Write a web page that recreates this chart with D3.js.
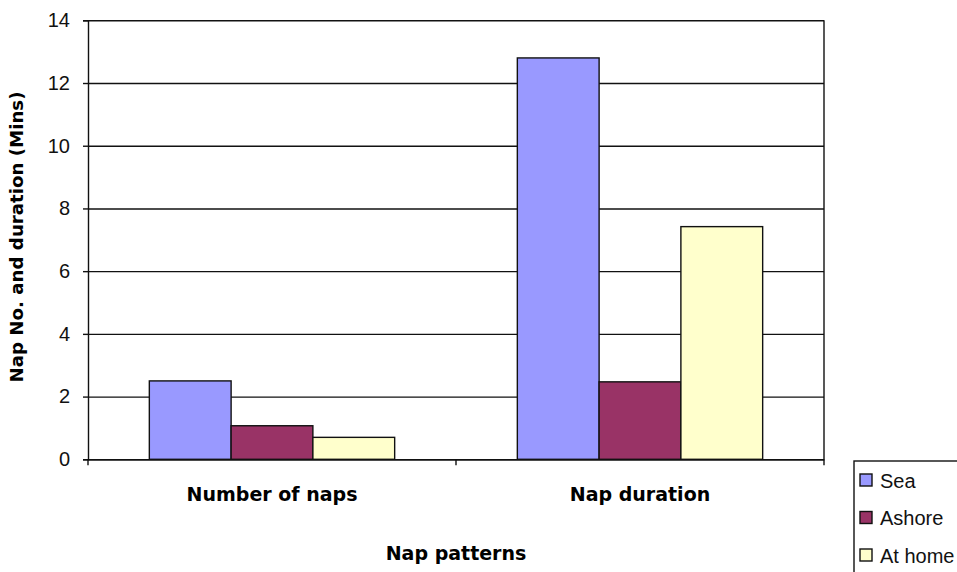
<!DOCTYPE html>
<html>
<head>
<meta charset="utf-8">
<script src="https://cdn.jsdelivr.net/npm/d3@7"></script>
<style>
  html, body { margin: 0; padding: 0; background: #fff; }
  svg { display: block; }
</style>
</head>
<body>
<svg id="chart" width="957" height="572"></svg>
<script>
// Nap patterns: count and duration, by location
const categories = ["Number of naps", "Nap duration"];
const seriesNames = ["Sea", "Ashore", "At home"];
const seaValues = [2.5, 12.8];
const ashoreValues = [1.07, 2.47];
const atHomeValues = [0.7, 7.42];
const seriesColors = ["#9999FF", "#993366", "#FFFFCC"];
const yTicks = [0, 2, 4, 6, 8, 10, 12, 14];
const yTitle = "Nap No. and duration (Mins)";
const xTitle = "Nap patterns";

const seriesValues = [seaValues, ashoreValues, atHomeValues];
const rows = categories.map((c, i) => ({
  category: c,
  values: seriesNames.map((s, j) => ({ series: s, value: seriesValues[j][i], color: seriesColors[j] }))
}));

const svg = d3.select("#chart");
const plot = { left: 88, right: 824, top: 20.3, bottom: 459.3 };

const y = d3.scaleLinear().domain([0, 14]).range([plot.bottom, plot.top]);
const x0 = d3.scaleBand().domain(categories).range([plot.left, plot.right]).paddingInner(0).paddingOuter(0);
const x1 = d3.scaleBand().domain(seriesNames).range([0, x0.bandwidth()]).paddingInner(0).paddingOuter(0.75);

const ink = "#111";

// horizontal gridlines
svg.append("g")
  .attr("transform", `translate(${plot.left},0)`)
  .call(d3.axisLeft(y).tickValues(yTicks).tickSize(-(plot.right - plot.left)).tickFormat(""))
  .call(g => g.select(".domain").remove())
  .call(g => g.selectAll("line").attr("stroke", ink).attr("stroke-width", 1.4));

// right border of plot area
svg.append("line")
  .attr("x1", plot.right).attr("x2", plot.right)
  .attr("y1", plot.top).attr("y2", plot.bottom)
  .attr("stroke", ink).attr("stroke-width", 1.4);

// bars
const groups = svg.append("g").selectAll("g")
  .data(rows).join("g")
  .attr("transform", d => `translate(${x0(d.category)},0)`);

groups.selectAll("rect")
  .data(d => d.values).join("rect")
  .attr("x", d => x1(d.series))
  .attr("width", x1.bandwidth())
  .attr("y", d => y(d.value))
  .attr("height", d => y(0) - y(d.value))
  .attr("fill", d => d.color)
  .attr("stroke", ink)
  .attr("stroke-width", 1.4);

// y axis with tick labels
const yAxis = svg.append("g")
  .attr("transform", `translate(${plot.left},0)`)
  .call(d3.axisLeft(y).tickValues(yTicks).tickSize(5).tickPadding(13));
yAxis.select(".domain").attr("stroke", ink).attr("stroke-width", 1.4);
yAxis.selectAll("line").attr("stroke", ink).attr("stroke-width", 1.4);
yAxis.selectAll("text")
  .attr("font-family", "Liberation Sans, Arial, sans-serif")
  .attr("font-size", 20)
  .attr("fill", "#111");

// x axis baseline and category boundary ticks
const xAxis = svg.append("g")
  .attr("transform", `translate(0,${plot.bottom})`)
  .call(d3.axisBottom(x0).tickSize(0).tickPadding(28));
xAxis.select(".domain").attr("stroke", ink).attr("stroke-width", 1.4);
xAxis.selectAll("text")
  .attr("font-family", "DejaVu Sans, Verdana, sans-serif")
  .attr("font-weight", "bold")
  .attr("font-size", 19)
  .attr("fill", "#000");

const boundaries = categories.map(c => x0(c)).concat([x0(categories[categories.length - 1]) + x0.bandwidth()]);
xAxis.selectAll("line.boundary")
  .data(boundaries).join("line")
  .attr("class", "boundary")
  .attr("x1", d => d).attr("x2", d => d)
  .attr("y1", 0).attr("y2", 6)
  .attr("stroke", ink).attr("stroke-width", 1.4);

// axis titles
svg.append("text")
  .attr("x", (plot.left + plot.right) / 2)
  .attr("y", 560)
  .attr("text-anchor", "middle")
  .attr("font-family", "DejaVu Sans, Verdana, sans-serif")
  .attr("font-weight", "bold")
  .attr("font-size", 19)
  .text(xTitle);

svg.append("text")
  .attr("transform", `translate(23,${(91 + 383) / 2}) rotate(-90)`)
  .attr("text-anchor", "middle")
  .attr("font-family", "DejaVu Sans, Verdana, sans-serif")
  .attr("font-weight", "bold")
  .attr("font-size", 18.2)
  .text(yTitle);

// legend
const legend = svg.append("g");
legend.append("rect")
  .attr("x", 854).attr("y", 461)
  .attr("width", 120).attr("height", 130)
  .attr("fill", "#fff")
  .attr("stroke", ink).attr("stroke-width", 1.4);

const items = legend.selectAll("g.item")
  .data(seriesNames.map((s, i) => ({ name: s, color: seriesColors[i] })))
  .join("g")
  .attr("class", "item")
  .attr("transform", (d, i) => `translate(860,${474 + i * 37.5})`);

items.append("rect")
  .attr("width", 12).attr("height", 12)
  .attr("fill", d => d.color)
  .attr("stroke", ink).attr("stroke-width", 1.4);

items.append("text")
  .attr("x", 20).attr("y", 13.5)
  .attr("font-family", "Liberation Sans, Arial, sans-serif")
  .attr("font-size", 20)
  .attr("fill", "#111")
  .text(d => d.name);
</script>
</body>
</html>
